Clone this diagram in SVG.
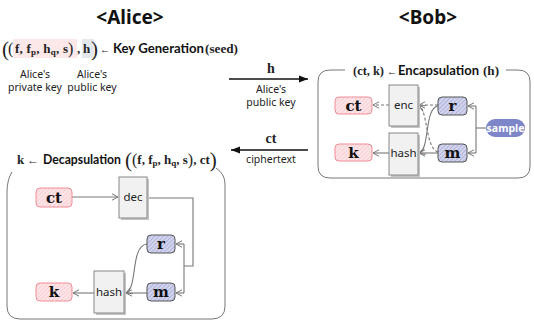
<svg xmlns="http://www.w3.org/2000/svg" width="534" height="322" viewBox="0 0 534 322">
<defs>
<pattern id="pinkHatch" patternUnits="userSpaceOnUse" width="3" height="3" patternTransform="rotate(45)">
<rect width="3" height="3" fill="#fde6e8"/>
<line x1="0" y1="0" x2="0" y2="3" stroke="#f4b7bd" stroke-width="1"/>
</pattern>
<pattern id="blueHatch" patternUnits="userSpaceOnUse" width="3" height="3" patternTransform="rotate(45)">
<rect width="3" height="3" fill="#d3d5ee"/>
<line x1="0" y1="0" x2="0" y2="3" stroke="#8f93c6" stroke-width="1"/>
</pattern>
<marker id="open" markerWidth="8" markerHeight="8" refX="7" refY="4" orient="auto" markerUnits="userSpaceOnUse">
<path d="M1,0.8 L7,4 L1,7.2" fill="none" stroke="#777" stroke-width="1"/>
</marker>
<marker id="solid" markerWidth="10" markerHeight="8" refX="9" refY="4" orient="auto" markerUnits="userSpaceOnUse">
<path d="M0,0.5 L9,4 L0,7.5 Z" fill="#111"/>
</marker>
</defs>
<style>
.title{font-family:"Noto Sans","Open Sans",sans-serif;font-weight:bold;font-size:19px;fill:#111}
.sans{font-family:"Noto Sans","Open Sans",sans-serif;fill:#222}
.lbl{font-family:"Noto Sans","Open Sans",sans-serif;font-size:10.5px;fill:#222}
.math{font-family:"Liberation Serif","DejaVu Serif",serif;font-weight:bold;fill:#222}
.par{font-family:"Liberation Serif","DejaVu Serif",serif;fill:#222}
.hd{font-family:Lato,"Noto Sans",sans-serif;font-weight:bold;font-size:13.5px;fill:#111}
.frame{fill:none;stroke:#777;stroke-width:1}
.pink{fill:url(#pinkHatch);stroke:#f08c96;stroke-width:1}
.blue{fill:url(#blueHatch);stroke:#555;stroke-width:1}
.box{fill:#f1f1f1;stroke:#888;stroke-width:1}
.shadow{fill:#c4c4c4}
.conn{fill:none;stroke:#777;stroke-width:1.1}
.dash{stroke-dasharray:3,2}
.ntext{font-family:"DejaVu Serif","Liberation Serif",serif;font-weight:bold;font-size:15px;fill:#111;text-anchor:middle}
.btext{font-family:"Noto Sans","Open Sans",sans-serif;font-size:11.5px;fill:#222;text-anchor:middle}
</style>
<rect width="534" height="322" fill="#ffffff"/>

<text class="title" x="130" y="24" text-anchor="middle">&lt;Alice&gt;</text>
<text class="title" x="428" y="24" text-anchor="middle">&lt;Bob&gt;</text>

<g id="keygen">
<rect x="13" y="39" width="64" height="19" fill="#fce8e8"/>
<rect x="82" y="39" width="12" height="19" fill="#e3e8ee"/>
<text x="2" y="56" class="par" font-size="21">(</text>
<text x="8" y="54" class="par" font-size="16">(</text>
<text x="15" y="53" class="math" font-size="13" textLength="53" lengthAdjust="spacing">f, f<tspan font-size="9" dy="2">p</tspan><tspan dy="-2">, h</tspan><tspan font-size="9" dy="2">q</tspan><tspan dy="-2">, s</tspan></text>
<text x="68" y="54" class="par" font-size="16">)</text>
<text x="77" y="53" class="math" font-size="13">,</text>
<text x="83" y="53" class="math" font-size="13">h</text>
<text x="91" y="56" class="par" font-size="21">)</text>
<text x="100" y="53" class="sans" font-size="11" textLength="10" lengthAdjust="spacingAndGlyphs">←</text>
<text x="113" y="53" class="hd" textLength="91" lengthAdjust="spacingAndGlyphs">Key Generation</text>
<text x="205" y="53" class="math" font-size="13" textLength="33" lengthAdjust="spacingAndGlyphs">(seed)</text>
<text x="35" y="78" class="lbl" text-anchor="middle">Alice's</text>
<text x="35" y="91" class="lbl" text-anchor="middle">private key</text>
<text x="92" y="78" class="lbl" text-anchor="middle">Alice's</text>
<text x="92" y="91" class="lbl" text-anchor="middle">public key</text>
</g>

<g id="msg-h">
<line x1="229" y1="79" x2="308" y2="79" stroke="#111" stroke-width="1.3" marker-end="url(#solid)"/>
<text x="271" y="73" class="math" font-size="14" text-anchor="middle">h</text>
<text x="271" y="93" class="lbl" text-anchor="middle">Alice's</text>
<text x="271" y="106" class="lbl" text-anchor="middle">public key</text>
</g>

<g id="msg-ct">
<line x1="308" y1="150" x2="231" y2="150" stroke="#111" stroke-width="1.3" marker-end="url(#solid)"/>
<text x="271" y="143" class="math" font-size="14" text-anchor="middle">ct</text>
<text x="271" y="163" class="lbl" text-anchor="middle">ciphertext</text>
</g>

<g id="bob-frame">
<path class="frame" d="M345,70 L330,70 Q318,70 318,82 L318,166 Q318,178 330,178 L518,178 Q530,178 530,166 L530,82 Q530,70 518,70 L506,70"/>
<text x="353" y="75" class="math" font-size="13" textLength="31" lengthAdjust="spacingAndGlyphs">(ct, k)</text>
<text x="387" y="75" class="sans" font-size="11" textLength="10" lengthAdjust="spacingAndGlyphs">←</text>
<text x="398" y="75" class="hd" textLength="81" lengthAdjust="spacingAndGlyphs">Encapsulation</text>
<text x="483" y="75" class="math" font-size="13" textLength="16" lengthAdjust="spacingAndGlyphs">(h)</text>
</g>

<g id="alice-frame">
<path class="frame" d="M12,172 Q7,180 7,192 L7,306 Q7,319 20,319 L212,319 Q225,319 225,306 L225,184 Q225,174 216,168"/>
<text x="17" y="164" class="math" font-size="13">k</text>
<text x="27" y="164" class="sans" font-size="11" textLength="12" lengthAdjust="spacingAndGlyphs">←</text>
<text x="43" y="164" class="hd" font-size="12.6" textLength="78" lengthAdjust="spacingAndGlyphs">Decapsulation</text>
<text x="125" y="164" class="math" font-size="13"><tspan class="par" font-weight="normal" font-size="21" dy="3">(</tspan><tspan class="par" font-weight="normal" font-size="16" dy="-2">(</tspan><tspan dy="-1">f, f</tspan><tspan font-size="9" dy="2">p</tspan><tspan dy="-2">, h</tspan><tspan font-size="9" dy="2">q</tspan><tspan dy="-2">, s</tspan><tspan class="par" font-weight="normal" font-size="16" dy="1">)</tspan><tspan dy="-1">, ct</tspan><tspan class="par" font-weight="normal" font-size="21" dy="3">)</tspan></text>
</g>

<g id="connectors">
<!-- Bob -->
<path class="conn dash" d="M389,105 L373,105" marker-end="url(#open)"/>
<path class="conn dash" d="M438,105 L419,105" marker-end="url(#open)"/>
<path class="conn" d="M389,153 L373,153" marker-end="url(#open)"/>
<path class="conn" d="M438,153 L419,153" marker-end="url(#open)"/>
<path class="conn" d="M438,106 C424,108 430,150 419,153" marker-end="url(#open)"/>
<path class="conn dash" d="M438,152 C425,148 428,110 419,106" marker-end="url(#open)"/>
<path class="conn" d="M486,128 L476,128"/>
<path class="conn" d="M476,106 L476,153"/>
<path class="conn" d="M476,106 L468,106" marker-end="url(#open)"/>
<path class="conn" d="M476,153 L468,153" marker-end="url(#open)"/>
<!-- Alice -->
<path class="conn" d="M72,197 L118,197" marker-end="url(#open)"/>
<path class="conn" d="M147,198 L193,198 L193,266 L184,266"/>
<path class="conn" d="M184,244 L184,293"/>
<path class="conn" d="M184,244 L176,244" marker-end="url(#open)"/>
<path class="conn" d="M184,293 L176,293" marker-end="url(#open)"/>
<path class="conn" d="M147,293 L126,293" marker-end="url(#open)"/>
<path class="conn" d="M94,293 L73,293" marker-end="url(#open)"/>
<path class="conn" d="M147,244 C130,246 138,288 126,293" marker-end="url(#open)"/>
</g>

<g id="bob-ct"><rect class="pink" x="335" y="97" width="37" height="17" rx="4"/><text class="ntext" x="353.5" y="111">ct</text></g>
<g id="bob-k"><rect class="pink" x="335" y="144" width="37" height="17" rx="4"/><text class="ntext" x="353.5" y="158">k</text></g>
<g id="bob-enc"><rect class="shadow" x="391" y="87" width="29" height="41"/><rect class="box" x="389" y="85" width="29" height="41"/><text class="btext" x="403.5" y="109">enc</text></g>
<g id="bob-hash"><rect class="shadow" x="391" y="135" width="29" height="42"/><rect class="box" x="389" y="133" width="29" height="42"/><text class="btext" x="403.5" y="157">hash</text></g>
<g id="bob-r"><rect class="blue" x="438" y="97" width="29" height="18" rx="4"/><text class="ntext" x="452.5" y="111">r</text></g>
<g id="bob-m"><rect class="blue" x="438" y="144" width="29" height="18" rx="4"/><text class="ntext" x="452.5" y="158">m</text></g>
<g id="bob-sample"><rect x="486" y="119" width="39" height="18" rx="9" fill="#7c86c8"/><text x="505.5" y="132" font-family="Noto Sans,Open Sans,sans-serif" font-weight="bold" font-size="10.5" fill="#fff" text-anchor="middle">sample</text></g>

<g id="alice-ct"><rect class="pink" x="36" y="188" width="36" height="19" rx="4"/><text class="ntext" x="54" y="203">ct</text></g>
<g id="alice-dec"><rect class="shadow" x="121" y="179" width="28" height="41"/><rect class="box" x="119" y="177" width="28" height="41"/><text class="btext" x="133" y="201">dec</text></g>
<g id="alice-r"><rect class="blue" x="147" y="235" width="28" height="18" rx="4"/><text class="ntext" x="161" y="249">r</text></g>
<g id="alice-m"><rect class="blue" x="147" y="283" width="28" height="18" rx="4"/><text class="ntext" x="161" y="297">m</text></g>
<g id="alice-k"><rect class="pink" x="36" y="283" width="36" height="18" rx="4"/><text class="ntext" x="54" y="297">k</text></g>
<g id="alice-hash"><rect class="shadow" x="96" y="273" width="30" height="42"/><rect class="box" x="94" y="271" width="30" height="42"/><text class="btext" x="109" y="296">hash</text></g>
</svg>
